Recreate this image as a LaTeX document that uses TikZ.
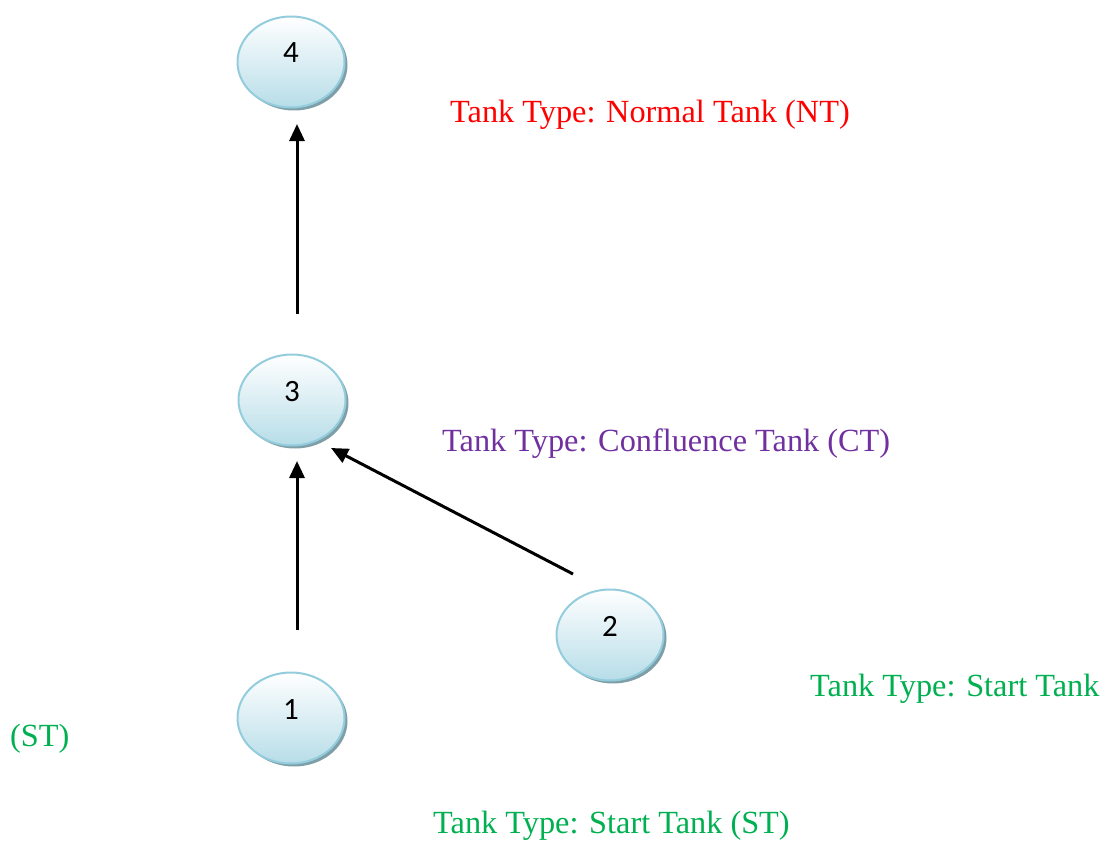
\documentclass[tikz,border=0pt]{standalone}
\usepackage{fontspec}
\setmainfont{Liberation Serif}
\newfontfamily\numfont{Carlito}
\usetikzlibrary{arrows.meta,shadows,shapes.geometric}
\definecolor{tankborder}{HTML}{93CDDD}
\definecolor{tankfill}{HTML}{B7DDE8}
\definecolor{tankshadow}{HTML}{7F9FA8}
\definecolor{ntred}{HTML}{FF0000}
\definecolor{ctpurple}{HTML}{7030A0}
\definecolor{stgreen}{HTML}{00B050}
\tikzset{
  tank/.style={ellipse, minimum width=107pt, minimum height=91pt, inner sep=0pt,
    draw=tankborder, line width=2pt, top color=white, bottom color=tankfill,
    font=\numfont\fontsize{31}{34}\selectfont,
    drop shadow={shadow xshift=3pt, shadow yshift=-3pt, fill=tankshadow, opacity=1}},
  arr/.style={-{Triangle[length=17pt,width=15pt]}, line width=3pt, black},
  lbl/.style={anchor=base west, inner sep=0pt, font=\fontsize{32.3}{36}\selectfont}
}
\newcommand{\tanknum}[1]{\raisebox{-1pt}[0pt][0pt]{#1}}
\begin{document}
\begin{tikzpicture}[x=1pt,y=-1pt]
\useasboundingbox (0,0) rectangle (1110,840);
\node[tank] (n4) at (291,62) {\tanknum{4}};
\node[tank] (n3) at (292,400) {\tanknum{3}};
\node[tank] (n2) at (610,635) {\tanknum{2}};
\node[tank] (n1) at (291,718) {\tanknum{1}};
\coordinate (a3top) at (297,314);
\coordinate (a4bot) at (297,124);
\coordinate (a1top) at (297,630);
\coordinate (a3bot) at (297,461);
\coordinate (a2top) at (573,574);
\coordinate (a3right) at (331,448);
\draw[arr] (a3top) -- (a4bot);
\draw[arr] (a1top) -- (a3bot);
\draw[arr] (a2top) -- (a3right);
\node[lbl, text=ntred] (tnt) at (450,123) {Tank Type: Normal Tank (NT)};
\node[lbl, text=ctpurple] (tct) at (442,451) {Tank Type: Confluence Tank (CT)};
\node[lbl, text=stgreen] (tst2) at (810,696) {Tank Type: Start Tank};
\node[lbl, text=stgreen] (tst2b) at (10,746) {(ST)};
\node[lbl, text=stgreen] (tst1) at (433,833) {Tank Type: Start Tank (ST)};
\end{tikzpicture}
\end{document}
